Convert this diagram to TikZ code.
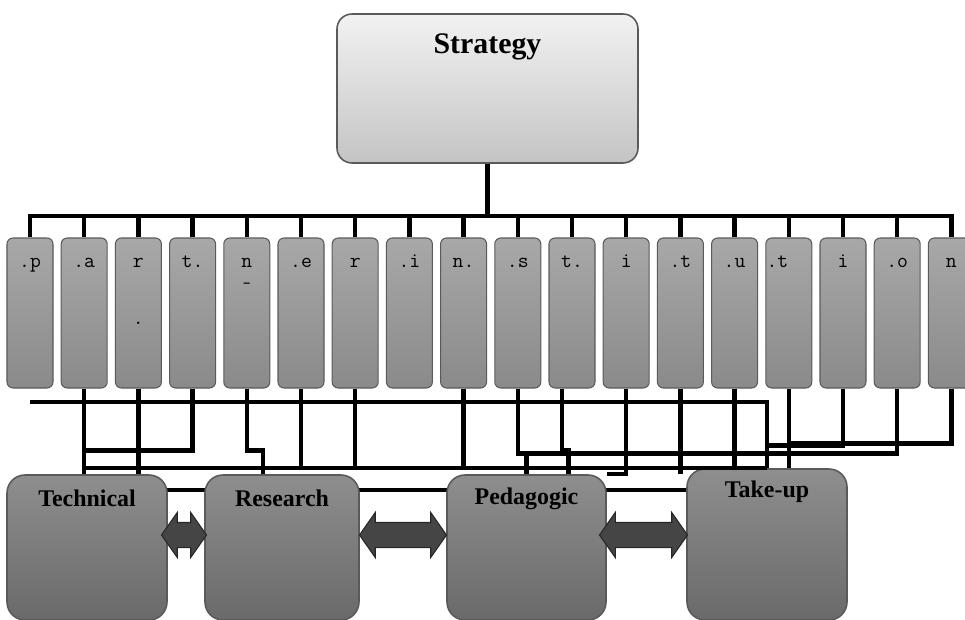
\documentclass[tikz,border=0pt]{standalone}
\usepackage{fontspec}
\setmainfont{Liberation Serif}
\usetikzlibrary{calc,shapes.arrows,backgrounds}

\definecolor{stratTop}{HTML}{F2F2F2}
\definecolor{stratBot}{HTML}{C4C4C4}
\definecolor{partTop}{HTML}{A8A8A8}
\definecolor{partBot}{HTML}{8A8A8A}
\definecolor{areaTop}{HTML}{8E8E8E}
\definecolor{areaBot}{HTML}{6A6A6A}
\definecolor{edgeGray}{HTML}{5A5A5A}
\definecolor{arrowGray}{HTML}{454545}

\begin{document}
\begin{tikzpicture}[
    x=0.2mm, y=-0.2mm,
    wire/.style={line width=2.4pt, black},
    strat/.style={draw=edgeGray, line width=0.9pt, rounded corners=3mm,
        top color=stratTop, bottom color=stratBot,
        minimum width=60.2mm, minimum height=29.8mm},
    partbox/.style={draw=edgeGray, line width=0.6pt, rounded corners=1.2mm,
        top color=partTop, bottom color=partBot,
        minimum width=9.2mm, minimum height=30mm},
    letter/.style={anchor=base, yshift=-6mm, inner sep=0pt,
        font=\ttfamily\fontsize{12}{14}\selectfont},
    areabox/.style={draw=edgeGray, line width=0.9pt, rounded corners=3.6mm,
        top color=areaTop, bottom color=areaBot, minimum height=29mm},
    heading/.style={anchor=base, inner sep=0pt,
        font=\bfseries\fontsize{13.6}{15}\selectfont},
    twoway/.style={double arrow, draw=black!85, fill=arrowGray, line width=0.6pt,
        inner xsep=0pt, inner ysep=2.4mm, minimum width=8.8mm,
        double arrow head extend=2mm, double arrow tip angle=110}
]
\useasboundingbox (0,0) rectangle (965,620);

% Strategy box
\node[strat, label={[heading, font=\bfseries\fontsize{17}{19}\selectfont, yshift=-8mm]north:Strategy}] (strategy) at (487.5,88.5) {};

% Partner institution boxes
\node[partbox, label={[letter]north:.p}] (p1) at (30,313) {};
\node[partbox, label={[letter]north:.a}] (p2) at (84.2,313) {};
\node[partbox, label={[letter]north:r}, label={[letter, yshift=-11.4mm]north:.}] (p3) at (138.4,313) {};
\node[partbox, label={[letter]north:t.}] (p4) at (192.6,313) {};
\node[partbox, label={[letter]north:n}, label={[letter, yshift=-4.2mm, font=\ttfamily\small]north:-}] (p5) at (246.8,313) {};
\node[partbox, label={[letter]north:.e}] (p6) at (301,313) {};
\node[partbox, label={[letter]north:r}] (p7) at (355.2,313) {};
\node[partbox, label={[letter]north:.i}] (p8) at (409.4,313) {};
\node[partbox, label={[letter]north:n.}] (p9) at (463.6,313) {};
\node[partbox, label={[letter]north:.s}] (p10) at (517.8,313) {};
\node[partbox, label={[letter]north:t.}] (p11) at (572,313) {};
\node[partbox, label={[letter]north:i}] (p12) at (626.2,313) {};
\node[partbox, label={[letter]north:.t}] (p13) at (680.4,313) {};
\node[partbox, label={[letter]north:.u}] (p14) at (734.6,313) {};
\node[partbox, label={[letter, anchor=base west, xshift=0.2mm]north west:.t}] (p15) at (788.8,313) {};
\node[partbox, label={[letter]north:i}] (p16) at (843,313) {};
\node[partbox, label={[letter]north:.o}] (p17) at (897.2,313) {};
\node[partbox, label={[letter]north:n}] (p18) at (951.4,313) {};

% Areas
\node[areabox, minimum width=32mm, label={[heading, yshift=-6.4mm]north:Technical}] (technical) at (87,547.5) {};
\node[areabox, minimum width=30.8mm, label={[heading, yshift=-6.4mm]north:Research}] (research) at (282,547.5) {};
\node[areabox, minimum width=31.8mm, label={[heading, yshift=-6mm]north:Pedagogic}] (pedagogic) at (526.5,547.5) {};
\node[areabox, minimum width=32mm, minimum height=30.2mm, label={[heading, yshift=-5.8mm]north:Take-up}] (takeup) at (767,544.5) {};

% Two-way arrows between areas
\node[twoway, minimum height=9mm] (tr) at ($(technical.east)!0.5!(research.west)+(-2,-12.5)$) {};
\node[twoway, minimum height=17.4mm] (rp) at ($(research.east)!0.5!(pedagogic.west)+(0,-12.5)$) {};
\node[twoway, minimum height=17.6mm] (pt) at ($(pedagogic.east)!0.5!(takeup.west)+(-3,-11)$) {};

% Strategy to partners
\coordinate (bus) at ($(strategy.south)+(0,52)$);
\draw[wire] (strategy.south) -- (bus);
\draw[wire] (p1.north) |- (bus) (p2.north) |- (bus) (p3.north) |- (bus)
    (p4.north) |- (bus) (p5.north) |- (bus) (p6.north) |- (bus)
    (p7.north) |- (bus) (p8.north) |- (bus) (p9.north) |- (bus)
    (p10.north) |- (bus) (p11.north) |- (bus) (p12.north) |- (bus)
    (p13.north) |- (bus) (p14.north) |- (bus) (p15.north) |- (bus)
    (p16.north) |- (bus) (p17.north) |- (bus) (p18.north) |- (bus);

% Partners to areas
\coordinate (loose) at (30,402);
\draw[wire] (takeup.north) |- (loose);
\draw[wire] (p2.south |- takeup.north) -- (takeup.north);
\draw[wire] (p2.south) -- (p2.south |- technical.north);
\draw[wire] (p3.south) -- (p3.south |- technical.north);
\draw[wire] (p4.south) -- ++(0,62) -| (p2.south |- technical.north);
\draw[wire] (p5.south) -- ++(0,62) -| ([xshift=-3.8mm]research.north);
\draw[wire] (p6.south) -- (p6.south |- takeup.north);
\draw[wire] (p7.south) -- (p7.south |- takeup.north);
\draw[wire] (p9.south) -- (p9.south |- takeup.north);
\draw[wire] (p10.south) -- ++(0,65) -| (p17.south);
\draw[wire] (pedagogic.north) -- ++(0,-22);
\draw[wire] ([xshift=-2mm]p11.south) -- ++(0,62) -| ([xshift=8.4mm]pedagogic.north);
\draw[wire] (p12.south) |- (pedagogic.north east);
\draw[wire] (p13.south) -- (p13.south |- pedagogic.north);
\draw[wire] (p14.south) -- (p14.south |- takeup.north);
\draw[wire] (p15.south) -- (p15.south |- takeup.north);
\draw[wire] (p16.south) -- ++(0,57) -| (takeup.north);
\draw[wire] (p18.south) -- ++(0,55) -| (p15.south);

% Line behind the areas
\coordinate (rail) at ([yshift=-3.2mm]technical.north);
\begin{pgfonlayer}{background}
\draw[wire] (rail) -- (rail -| takeup.north);
\end{pgfonlayer}

\end{tikzpicture}
\end{document}
